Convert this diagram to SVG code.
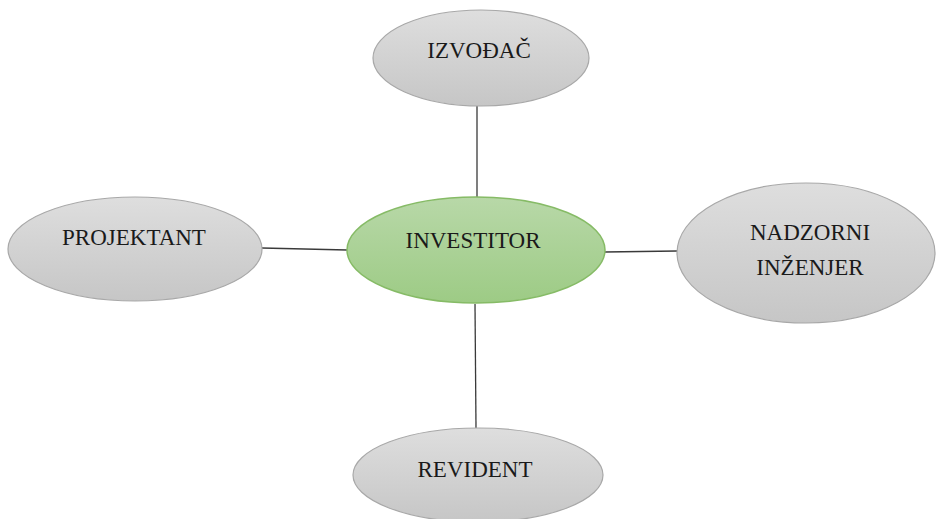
<svg xmlns="http://www.w3.org/2000/svg" width="936" height="519" viewBox="0 0 936 519">
<defs>
<linearGradient id="gGray" x1="0" y1="0" x2="0" y2="1">
<stop offset="0" stop-color="#dedede"/>
<stop offset="1" stop-color="#c6c6c6"/>
</linearGradient>
<linearGradient id="gGreen" x1="0" y1="0" x2="0" y2="1">
<stop offset="0" stop-color="#b8d8a8"/>
<stop offset="1" stop-color="#9dcb85"/>
</linearGradient>
</defs>
<style>
.gray{fill:url(#gGray);stroke:#a8a8a8;stroke-width:1.2}
.green{fill:url(#gGreen);stroke:#86bb66;stroke-width:1.5}
.lbl{font-family:"Liberation Serif","Times New Roman",serif;font-size:23px;fill:#1a1a1a;text-anchor:middle}
.con{stroke:#3a3a3a;stroke-width:1.3;fill:none}
</style>
<rect width="936" height="519" fill="#ffffff"/>
<g id="connectors">
<line class="con" x1="477" y1="106" x2="477" y2="197"/>
<line class="con" x1="475" y1="304" x2="476" y2="428"/>
<line class="con" x1="262" y1="248" x2="347" y2="250"/>
<line class="con" x1="605" y1="252" x2="677" y2="251"/>
</g>
<g id="izvodjac">
<ellipse class="gray" cx="481" cy="58" rx="108" ry="48"/>
<text class="lbl" x="479" y="58">IZVOĐAČ</text>
</g>
<g id="projektant">
<ellipse class="gray" cx="135" cy="249" rx="127" ry="52"/>
<text class="lbl" x="134" y="245">PROJEKTANT</text>
</g>
<g id="investitor">
<ellipse class="green" cx="476" cy="250" rx="129" ry="53"/>
<text class="lbl" x="473" y="248">INVESTITOR</text>
</g>
<g id="nadzorni">
<ellipse class="gray" cx="806" cy="253" rx="129" ry="70"/>
<text class="lbl" x="810" y="240">NADZORNI</text>
<text class="lbl" x="810" y="275">INŽENJER</text>
</g>
<g id="revident">
<ellipse class="gray" cx="478" cy="475" rx="125" ry="47"/>
<text class="lbl" x="475" y="477">REVIDENT</text>
</g>
</svg>
